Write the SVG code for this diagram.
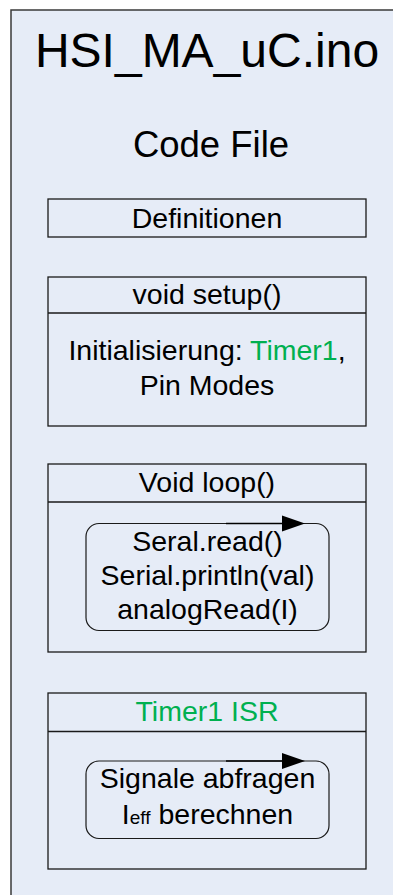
<svg xmlns="http://www.w3.org/2000/svg" width="393" height="895" viewBox="0 0 393 895">
<style>
  .t { font-family: "Liberation Sans", Arial, sans-serif; fill: #000; text-anchor: middle; }
  .m { font-size: 28.5px; }
  .g { fill: #00B050; }
  .box { fill: none; stroke: #1a1a1a; stroke-width: 1.3; }
  .rbox { fill: none; stroke: #1a1a1a; stroke-width: 1.2; }
  .arr { fill: none; stroke: #000; stroke-width: 1.6; }
  .head { fill: #000; }
</style>
<g id="codefile">
  <rect x="11" y="10" width="400" height="900" fill="#E6ECF7" stroke="#3a3a3a" stroke-width="1.5"/>
  <text class="t" x="207" y="67" font-size="48">HSI_MA_uC.ino</text>
  <text class="t" x="211" y="157" font-size="36.5">Code File</text>
</g>
<g id="definitionen">
  <rect class="box" x="48" y="199" width="318" height="38"/>
  <text class="t m" x="207" y="228">Definitionen</text>
</g>
<g id="setup">
  <rect class="box" x="48" y="277" width="318" height="149"/>
  <line class="box" x1="48" y1="313" x2="366" y2="313"/>
  <text class="t m" x="207" y="304">void setup()</text>
  <text class="t m" x="207" y="359.5">Initialisierung: <tspan class="g">Timer1</tspan>,</text>
  <text class="t m" x="207" y="395">Pin Modes</text>
</g>
<g id="loop">
  <rect class="box" x="48" y="464" width="318" height="188"/>
  <line class="box" x1="48" y1="502" x2="366" y2="502"/>
  <text class="t m" x="207" y="492">Void loop()</text>
  <rect class="rbox" x="86" y="523.5" width="243" height="107" rx="13" ry="13"/>
  <text class="t m" x="207.5" y="550.5">Seral.read()</text>
  <text class="t m" x="207.5" y="585">Serial.println(val)</text>
  <text class="t m" x="207.5" y="619">analogRead(I)</text>
</g>
<g id="timer1isr">
  <rect class="box" x="48" y="693" width="318" height="176"/>
  <line class="box" x1="48" y1="731.5" x2="366" y2="731.5"/>
  <text class="t m g" x="207" y="721">Timer1 ISR</text>
  <rect class="rbox" x="86" y="761" width="243" height="77.5" rx="13" ry="13"/>
  <text class="t m" x="207.5" y="788">Signale abfragen</text>
  <text class="t m" x="207.5" y="823.5">I<tspan font-size="19px">eff</tspan> berechnen</text>
</g>
<g id="connectors">
  <path class="arr" d="M226,523.5 L284,523.5"/>
  <polygon class="head" points="282,515.5 305,523.5 282,531.5"/>
  <path class="arr" d="M226,761 L284,761"/>
  <polygon class="head" points="282,753 305,761 282,769"/>
</g>
</svg>
